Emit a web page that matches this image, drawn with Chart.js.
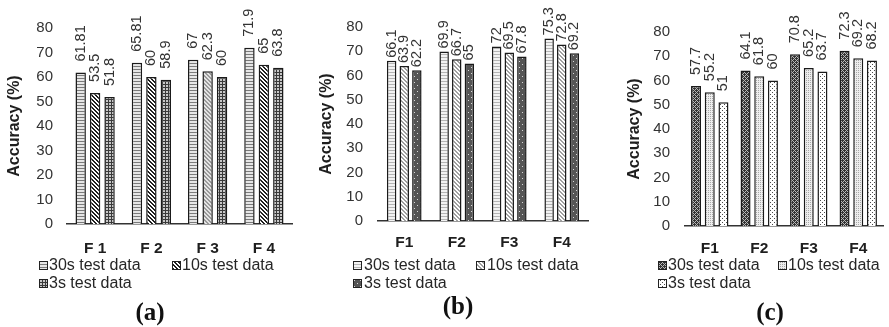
<!DOCTYPE html>
<html>
<head>
<meta charset="utf-8">
<script src="https://cdn.jsdelivr.net/npm/chart.js@4.4.1/dist/chart.umd.min.js"></script>
<style>
    body { margin: 0; background: #fff; }
    #wrap { position: relative; width: 889px; height: 327px; overflow: hidden; }
    canvas { position: absolute; top: 0; }
    .cap {
        position: absolute; width: 60px; margin-left: -30px; text-align: center;
        font: bold 25px "Liberation Serif", "Times New Roman", serif; color: #111;
        line-height: 26px;
    }
</style>
</head>
<body>
<div id="wrap">
    <canvas id="chartA" width="296" height="327" style="left:0px"></canvas>
    <canvas id="chartB" width="296" height="327" style="left:296px"></canvas>
    <canvas id="chartC" width="297" height="327" style="left:592px"></canvas>
    <div class="cap" id="capA" style="left:150px; top:299px"></div>
    <div class="cap" id="capB" style="left:458px; top:293px"></div>
    <div class="cap" id="capC" style="left:770px; top:299px"></div>
</div>
<script>
// data
const categoriesA = ['F 1', 'F 2', 'F 3', 'F 4'];
const categoriesBC = ['F1', 'F2', 'F3', 'F4'];
const seriesLabels = ['30s test data', '10s test data', '3s test data'];
const captions = ['(a)', '(b)', '(c)'];

const a30 = [61.81, 65.81, 67, 71.9];
const a10 = [53.5, 60, 62.3, 65];
const a3 = [51.8, 58.9, 60, 63.8];

const b30 = [66.1, 69.9, 72, 75.3];
const b10 = [63.9, 66.7, 69.5, 72.8];
const b3 = [62.2, 65, 67.8, 69.2];

const c30 = [57.7, 64.1, 70.8, 72.3];
const c10 = [55.2, 61.8, 65.2, 69.2];
const c3 = [51, 60, 63.7, 68.2];

const yMin = 0, yMax = 80, yStep = 10;

document.getElementById('capA').textContent = captions[0];
document.getElementById('capB').textContent = captions[1];
document.getElementById('capC').textContent = captions[2];

// small pixel patterns for the bar fills
function makePattern(size, bg, fg, test) {
    const c = document.createElement('canvas');
    c.width = size; c.height = size;
    const x = c.getContext('2d');
    x.fillStyle = bg;
    x.fillRect(0, 0, size, size);
    x.fillStyle = fg;
    for (let i = 0; i < size; i++) {
        for (let j = 0; j < size; j++) {
            if (test(i, j, size)) x.fillRect(i, j, 1, 1);
        }
    }
    return x.createPattern(c, 'repeat');
}

const hStripe = (i, j) => j % 3 === 0;
const diag = (i, j, s) => ((i - j) % s + s) % s < 2;
const grid = (i, j) => i % 3 === 0 || j % 3 === 0;
const sparseDots = (i, j) => (i === 1 && j === 1) || (i === 4 && j === 4);
const lattice = (i, j, s) => (i + j) % s === 0 || ((i - j) % s + s) % s === 0;
const fineDots = (i, j) => (i % 2 === 0 && j % 2 === 0);

const patA30 = makePattern(3, '#e6e6e6', '#7a7a7a', hStripe);
const patA10 = makePattern(4, '#ffffff', '#1e1e1e', diag);
const patA10lt = makePattern(4, '#e4e4e4', '#9a9a9a', diag);
const patA3 = makePattern(3, '#c8c8c8', '#3a3a3a', grid);

const patB30 = makePattern(3, '#f2f2f2', '#b4b4b4', hStripe);
const patB10 = makePattern(4, '#ffffff', '#a0a0a0', diag);
const patB3 = makePattern(6, '#555555', '#d8d8d8', sparseDots);

const patC30 = makePattern(4, '#333333', '#b8b8b8', lattice);
const patC10 = makePattern(2, '#eeeeee', '#a8a8a8', fineDots);
const patC3 = makePattern(4, '#ffffff', '#4a4a4a', (i, j) => (i === 0 && j === 0) || (i === 2 && j === 2));

// rotated value labels above each bar
const barLabels = {
    id: 'barLabels',
    afterDatasetsDraw(chart, args, opts) {
        const ctx = chart.ctx;
        ctx.save();
        ctx.font = '14.5px "Liberation Sans", Arial, sans-serif';
        ctx.fillStyle = '#333';
        ctx.textAlign = 'left';
        ctx.textBaseline = 'middle';
        chart.data.datasets.forEach((ds, i) => {
            chart.getDatasetMeta(i).data.forEach((bar, j) => {
                ctx.save();
                ctx.translate(bar.x, bar.y - opts.gap);
                ctx.rotate(-Math.PI / 2);
                ctx.fillText(String(ds.data[j]), 0, 0);
                ctx.restore();
            });
        });
        ctx.restore();
    }
};

// legend with pattern swatches, laid out like the original (2 + 1)
const patLegend = {
    id: 'patLegend',
    afterDraw(chart, args, opts) {
        const ctx = chart.ctx;
        ctx.save();
        ctx.font = '16px "Liberation Sans", Arial, sans-serif';
        ctx.textBaseline = 'middle';
        ctx.textAlign = 'left';
        chart.data.datasets.forEach((ds, i) => {
            const [x, y] = opts.pos[i];
            ctx.fillStyle = ds.legendFill;
            ctx.fillRect(x, y - 4, 8, 8);
            ctx.strokeStyle = '#222';
            ctx.lineWidth = 1;
            ctx.strokeRect(x + 0.5, y - 3.5, 8, 8);
            ctx.fillStyle = '#262626';
            ctx.fillText(ds.label, x + opts.textOffset, y + 1);
        });
        ctx.restore();
    }
};

function buildChart(id, cats, series, fills, legendFills, cfg) {
    const datasets = series.map((s, i) => ({
        label: seriesLabels[i],
        data: s,
        backgroundColor: fills[i],
        legendFill: legendFills[i],
        borderColor: '#1a1a1a',
        borderWidth: 1.5,
        categoryPercentage: cfg.catPct,
        barPercentage: cfg.barPct
    }));
    return new Chart(document.getElementById(id), {
        type: 'bar',
        data: { labels: cats, datasets: datasets },
        options: {
            responsive: false,
            animation: false,
            layout: { padding: { left: 0, right: cfg.padRight, top: cfg.padTop, bottom: cfg.padBottom } },
            plugins: {
                legend: { display: false },
                tooltip: { enabled: false },
                barLabels: { gap: cfg.labelGap },
                patLegend: { pos: cfg.legendPos, textOffset: cfg.textOffset }
            },
            scales: {
                x: {
                    grid: { display: false, drawTicks: false },
                    border: { display: true, color: '#333', width: 1.5 },
                    ticks: {
                        padding: cfg.xPad,
                        color: '#1e1e1e',
                        font: { family: '"Liberation Sans", Arial, sans-serif', size: 15.5, weight: 'bold' }
                    },
                    afterFit: (scale) => { scale.height = 30; }
                },
                y: {
                    min: yMin,
                    max: yMax,
                    grid: { display: false, drawTicks: false },
                    border: { display: false },
                    ticks: {
                        stepSize: yStep,
                        padding: cfg.yPad,
                        color: '#333',
                        font: { family: '"Liberation Sans", Arial, sans-serif', size: 15 }
                    },
                    title: {
                        display: true,
                        text: 'Accuracy (%)',
                        color: '#1e1e1e',
                        padding: { top: cfg.titlePad, bottom: 0 },
                        font: { family: '"Liberation Sans", Arial, sans-serif', size: 16, weight: 'bold' }
                    },
                    afterFit: (scale) => { scale.width = cfg.yWidth; }
                }
            }
        },
        plugins: [barLabels, patLegend]
    });
}

buildChart('chartA', categoriesA, [a30, a10, a3],
    [patA30, [patA10, patA10, patA10lt, patA10], patA3],
    [patA30, patA10, patA3],
    { catPct: 0.77, barPct: 0.72, padRight: 4, padTop: 28, padBottom: 73, yWidth: 67, yPad: 14,
      titlePad: 5, xPad: 15, labelGap: 11, legendPos: [[39, 265], [172, 265], [39, 283]], textOffset: 10 });

buildChart('chartB', categoriesBC, [b30, b10, b3],
    [patB30, patB10, patB3],
    [patB30, patB10, patB3],
    { catPct: 0.72, barPct: 0.75, padRight: 4, padTop: 27, padBottom: 76, yWidth: 82, yPad: 15,
      titlePad: 21, xPad: 12, labelGap: 3, legendPos: [[57, 265], [180, 265], [57, 283]], textOffset: 11 });

buildChart('chartC', categoriesBC, [c30, c10, c3],
    [patC30, patC10, patC3],
    [patC30, patC10, patC3],
    { catPct: 0.83, barPct: 0.73, padRight: 6, padTop: 32, padBottom: 71, yWidth: 93, yPad: 15,
      titlePad: 33, xPad: 13, labelGap: 11, legendPos: [[66, 265], [186, 265], [66, 283]], textOffset: 10 });
</script>
</body>
</html>
